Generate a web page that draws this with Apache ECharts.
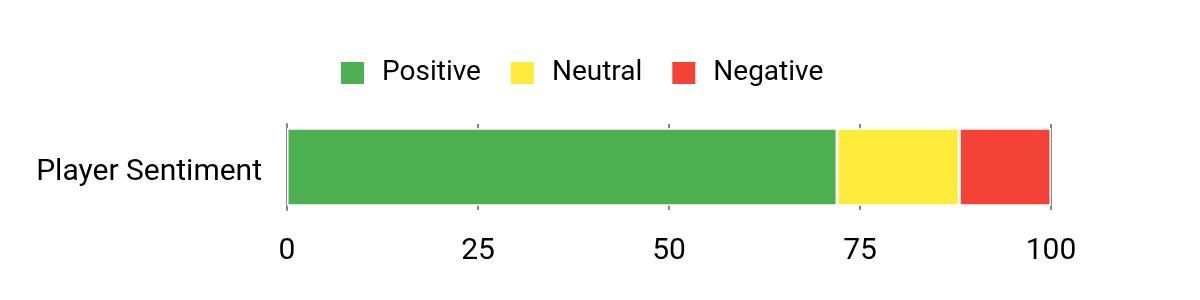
<!DOCTYPE html>
<html><head><meta charset="utf-8">
<script src="https://cdn.jsdelivr.net/npm/echarts@6/dist/echarts.min.js"></script>
<style>html,body{margin:0;padding:0;background:#fff}#c{width:1200px;height:300px}</style>
</head><body><div id="c"></div>
<script>
const categories = ["Player Sentiment"];
const seriesNames = ["Positive", "Neutral", "Negative"];
const positive = [72];
const neutral = [16];
const negative = [12];
const colors = ["#4CAF50", "#FFEB3B", "#F44336"];
const xTicks = [0, 25, 50, 75, 100];

const FONT = 'Roboto';
const chart = echarts.init(document.getElementById('c'), null, {renderer: 'canvas'});
const values = [positive, neutral, negative];
chart.setOption({
  animation: false,
  textStyle: {fontFamily: FONT},
  legend: {
    top: 54, left: 334, itemWidth: 25, itemHeight: 24, itemGap: 28, icon: 'rect',
    textStyle: {fontSize: 28, color: '#000', fontFamily: FONT, padding: [0, 0, 0, 12]},
    data: seriesNames
  },
  grid: {left: 287, right: 149, top: 124, bottom: 90, containLabel: false},
  xAxis: {
    type: 'value', min: xTicks[0], max: xTicks[xTicks.length - 1], interval: 25,
    axisLine: {show: false}, axisTick: {show: false},
    axisLabel: {fontSize: 30, color: '#000', margin: 26, fontFamily: FONT},
    splitLine: {show: true, lineStyle: {color: '#888', width: 2}}
  },
  yAxis: {
    type: 'category', data: categories,
    axisLine: {show: true, lineStyle: {color: '#888', width: 2}},
    axisTick: {show: false},
    axisLabel: {fontSize: 30, color: '#000', margin: 25, fontFamily: FONT, verticalAlign: 'top', lineHeight: 10}
  },
  series: seriesNames.map((n, i) => ({
    name: n, type: 'bar', stack: 'total', data: values[i], barWidth: '90%',
    itemStyle: {color: colors[i], borderColor: '#fff', borderWidth: 1.5}
  }))
});
</script></body></html>
